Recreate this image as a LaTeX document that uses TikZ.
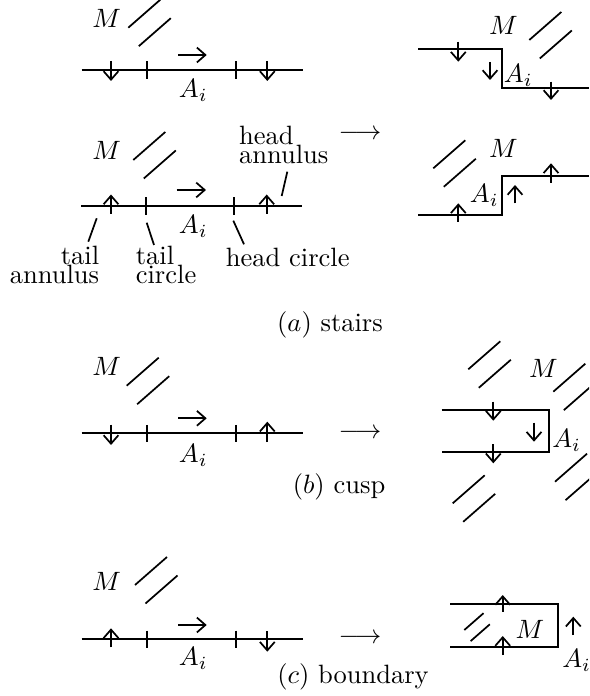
\documentclass[tikz,border=0pt]{standalone}
\usetikzlibrary{arrows.meta}
\begin{document}
\begin{tikzpicture}[x=0.37736pt,y=-0.37736pt,
  line width=0.65pt,
  arr/.style={-{Straight Barb[length=3.2pt,width=5.6pt]}},
  lbl/.style={inner sep=0pt},
  hatch/.pic={\draw (0,0) -- (32,-28) (10.5,18.5) -- (42.5,-9.5);}
]
\clip (0,0) rectangle (589,696);

% ---------- (a) stairs, row 1 ----------
\draw (81.7,70) -- (302.7,70);
\draw (146.7,61.5) -- (146.7,79) (235.7,61.5) -- (235.7,79);
\draw[arr] (111,61) -- (111,81);
\draw[arr] (267.3,61) -- (267.3,81);
\draw[arr] (178,55) -- (206.7,55);
\pic at (128.3,27.7) {hatch};
\node[lbl] (m1) at (106.7,18) {$M$};
\node[lbl] (a1) at (193.3,90) {$A_i$};

\draw (418.3,49.3) -- (501.7,49.3) -- (501.7,88.3) -- (589,88.3);
\draw[arr] (458.3,41.7) -- (458.3,61.7);
\draw[arr] (490,62) -- (490,80);
\draw[arr] (551,81.7) -- (551,100);
\pic at (529.3,40) {hatch};
\node[lbl] (m1r) at (503.3,25) {$M$};
\node[lbl] (a1r) at (518.3,75) {$A_i$};

% ---------- (a) stairs, row 2 ----------
\draw (81,206) -- (301.7,206);
\draw (145.7,197.5) -- (145.7,215) (234.3,197.5) -- (234.3,215);
\draw[arr] (111,214) -- (111,194.5);
\draw[arr] (266.7,214) -- (266.7,194.5);
\draw[arr] (176.7,190) -- (206,190);
\pic at (133.3,160) {hatch};
\node[lbl] (m2) at (106.7,150) {$M$};
\node[lbl] (a2) at (193.3,226.7) {$A_i$};

\node[lbl, anchor=north east, align=right] (ta) at (100,245) {tail\\[-4.8pt]annulus};
\node[lbl, anchor=north west, align=left] (tc) at (135,245) {tail\\[-4.8pt]circle};
\node[lbl, anchor=base west] (hc) at (225,266.7) {head circle};
\node[lbl, anchor=north west, align=left] (ha) at (238.3,125) {head\\[-4.8pt]annulus};
\draw (96.7,218.3) -- (88.3,241.7);
\draw (146.7,222.7) -- (154,245);
\draw (233.3,220.7) -- (244,244.3);
\draw (281.7,196) -- (287.3,171.7);

\draw (418.3,215) -- (501.7,215) -- (501.7,176) -- (589,176);
\draw[arr] (458.3,221.7) -- (458.3,203.3);
\draw[arr] (515,203.3) -- (515,185);
\draw[arr] (551,182.7) -- (551,163.3);
\pic at (433.3,168.3) {hatch};
\node[lbl] (m2r) at (503.3,148.3) {$M$};
\node[lbl] (a2r) at (484.3,195) {$A_i$};

\node[lbl] (arrA) at (360,134.3) {$\longrightarrow$};
\node[lbl] (capA) at (330,325) {$(a)$ stairs};

% ---------- (b) cusp ----------
\draw (81.7,433.3) -- (302.7,433.3);
\draw (146.7,424.8) -- (146.7,442.3) (235.7,424.8) -- (235.7,442.3);
\draw[arr] (111,424.5) -- (111,445);
\draw[arr] (267.3,442) -- (267.3,421.7);
\draw[arr] (178,418.3) -- (206.7,418.3);
\pic at (126.7,385.7) {hatch};
\node[lbl] (m3) at (106.7,366.7) {$M$};
\node[lbl] (a3) at (193.3,455) {$A_i$};

\draw (441.7,410) -- (549.3,410) -- (549.3,451.7) -- (441.7,451.7);
\draw[arr] (493.3,401.7) -- (493.3,420.7);
\draw[arr] (534,422.7) -- (534,441.7);
\draw[arr] (493.3,444) -- (493.3,463.3);
\pic at (468.3,369.3) {hatch};
\pic at (553.3,391.7) {hatch};
\pic at (452.7,503.3) {hatch};
\pic at (555,481.7) {hatch};
\node[lbl] (m3r) at (543.3,368.3) {$M$};
\node[lbl] (a3r) at (566.7,440) {$A_i$};

\node[lbl] (arrB) at (360,433.3) {$\longrightarrow$};
\node[lbl] (capB) at (339,487) {$(b)$ cusp};

% ---------- (c) boundary ----------
\draw (81.7,639) -- (302.7,639);
\draw (146.7,630.5) -- (146.7,648) (235.7,630.5) -- (235.7,648);
\draw[arr] (111,647.3) -- (111,628.3);
\draw[arr] (267.3,631) -- (267.3,651.7);
\draw[arr] (178,625) -- (206.7,625);
\pic at (135,585) {hatch};
\node[lbl] (m4) at (106.7,581.7) {$M$};
\node[lbl] (a4) at (193.3,658.3) {$A_i$};

\draw (450,604) -- (558.3,604) -- (558.3,646.7) -- (450,646.7);
\draw[arr] (502.7,611.7) -- (502.7,595);
\draw[arr] (502.7,655) -- (502.7,636);
\draw[arr] (573.3,635) -- (573.3,616.7);
\pic[scale=0.6] at (464.3,630) {hatch};
\node[lbl] (m4r) at (530,629.3) {$M$};
\node[lbl] (a4r) at (576.7,660) {$A_i$};

\node[lbl] (arrC) at (360,639) {$\longrightarrow$};
\node[lbl] (capC) at (353,677) {$(c)$ boundary};
\end{tikzpicture}
\end{document}
